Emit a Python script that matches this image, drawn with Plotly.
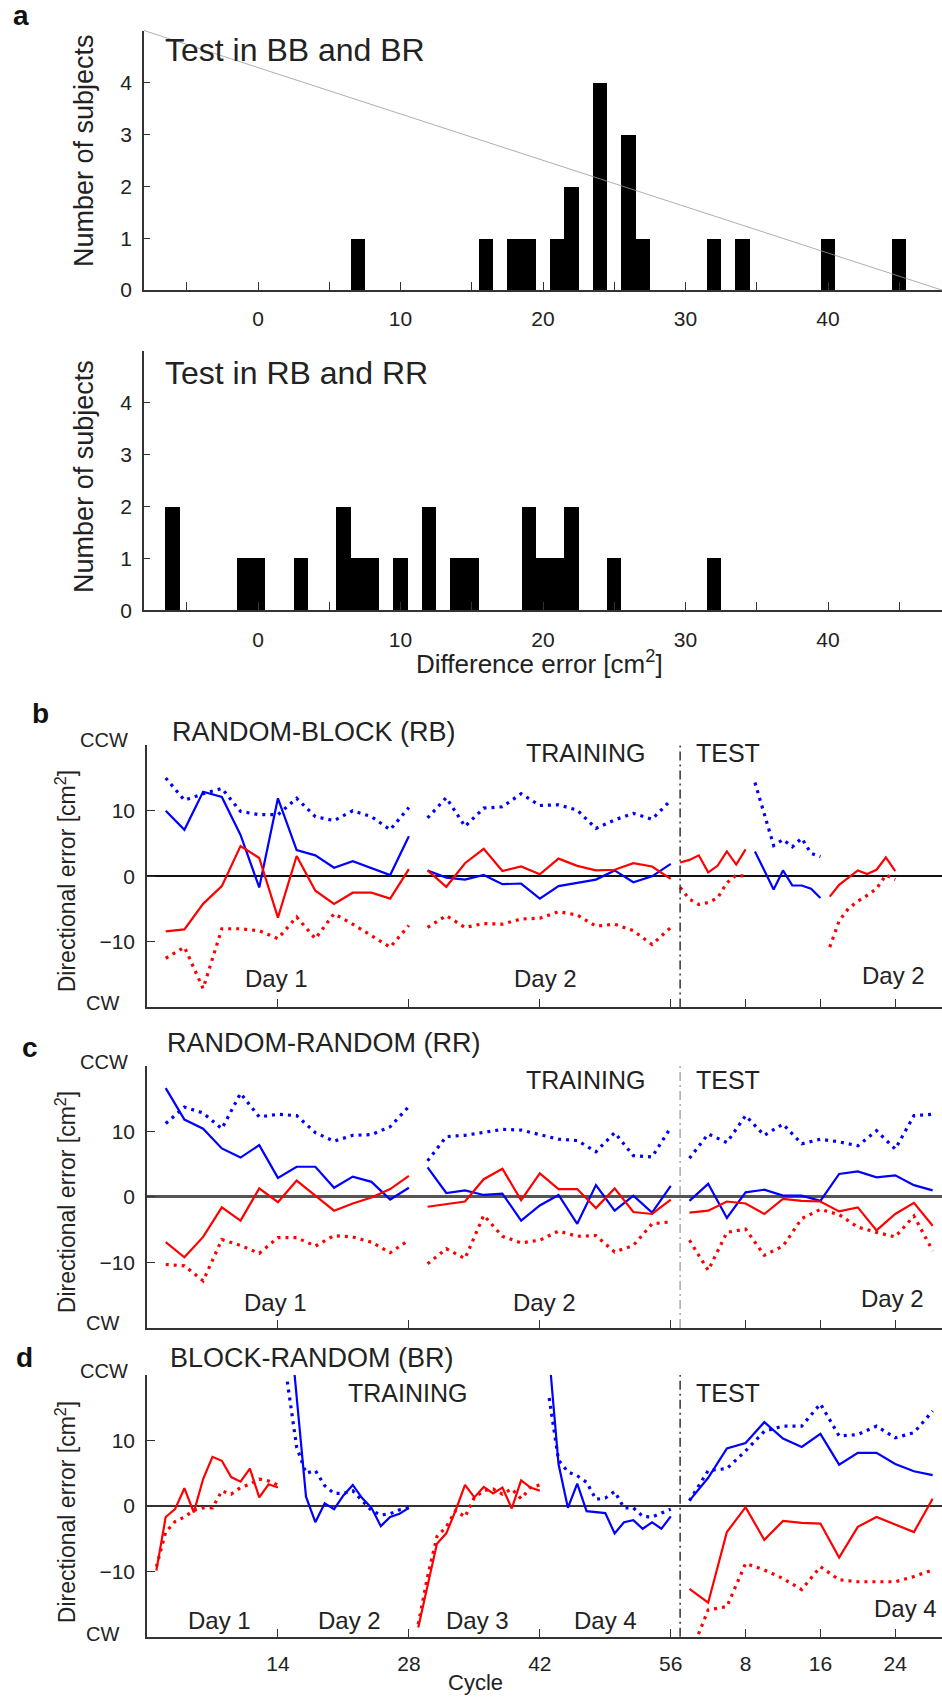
import plotly.graph_objects as go

W, H = 942, 1706
FONT = "Liberation Sans, Arial, Helvetica, sans-serif"

# ---------------- Panel a: histograms ----------------
HIST_BINS_TOP = [7, 16, 18, 19, 21, 22, 24, 26, 27, 32, 34, 40, 45]
HIST_COUNTS_TOP = [1, 1, 1, 1, 1, 2, 4, 3, 1, 1, 1, 1, 1]
HIST_BINS_BOT = [-6, -1, 0, 3, 6, 7, 8, 10, 12, 14, 15, 19, 20, 21, 22, 25, 32]
HIST_COUNTS_BOT = [2, 1, 1, 1, 2, 1, 1, 1, 2, 1, 1, 2, 1, 1, 2, 1, 1]
HIST_XTICKS = [0, 10, 20, 30, 40]
HIST_XMINOR = [-5, 5, 15, 25, 35, 45]
HIST_YTICKS = [0, 1, 2, 3, 4]

# ---------------- Panels b-d: cycle axes ----------------
CYCLE_TICKS = [14, 28, 42, 56, 64, 72, 80]
CYCLE_LABELS = ["14", "28", "42", "56", "8", "16", "24"]
ERR_TICKS = [-10, 0, 10]
ERR_LABELS = ["\u221210", "0", "10"]
ERR_MINOR = [-20, 20]
TEST_SEP = 57

# Panel b: RANDOM-BLOCK (RB)
RB_D1_X = [2, 4, 6, 8, 10, 12, 14, 16, 18, 20, 22, 24, 26, 28]
RB_D1_BLUE = [10.0, 7.1, 12.9, 12.1, 6.3, -1.7, 11.9, 4.0, 3.2, 1.3, 2.3, 1.3, 0.2, 6.1]
RB_D1_BDOT = [15.0, 11.6, 12.6, 13.4, 9.9, 9.4, 9.4, 11.9, 9.1, 8.5, 10.0, 9.1, 7.1, 10.5]
RB_D1_RED = [-8.4, -8.1, -4.2, -1.5, 4.6, 2.8, -6.3, 3.1, -2.2, -4.2, -2.5, -2.5, -3.4, 1.1]
RB_D1_RDOT = [-12.5, -10.8, -17.1, -8.0, -8.0, -8.3, -9.5, -6.2, -9.5, -5.7, -7.3, -9.0, -10.8, -7.5]
RB_D2_X = [30, 32, 34, 36, 38, 40, 42, 44, 46, 48, 50, 52, 54, 56]
RB_D2_BLUE = [0.9, -0.2, -0.5, 0.2, -1.2, -1.1, -3.4, -1.5, -1.0, -0.5, 0.9, -0.9, 0.0, 1.9]
RB_D2_BDOT = [8.9, 12.0, 7.6, 10.4, 10.6, 12.6, 10.8, 10.9, 10.1, 7.3, 8.6, 9.6, 8.7, 11.6]
RB_D2_RED = [0.9, -1.6, 2.0, 4.2, 0.8, 1.5, 0.3, 2.7, 1.6, 0.9, 1.0, 2.0, 1.5, -0.4]
RB_D2_RDOT = [-7.8, -6.0, -7.8, -7.2, -7.3, -6.5, -6.4, -5.4, -5.9, -7.6, -7.3, -8.3, -10.4, -7.8]
RB_T1_X = [57, 58, 59, 60, 61, 62, 63, 64]
RB_T1_RED = [2.1, 2.5, 3.2, 0.6, 1.6, 3.8, 1.8, 4.1]
RB_T1_RDOT = [-1.7, -3.5, -4.3, -4.0, -3.3, -1.0, 0.2, 0.0]
RB_T2_X = [65, 66, 67, 68, 69, 70, 71, 72]
RB_T2_BLUE = [3.8, 0.8, -2.0, 0.9, -1.4, -1.4, -1.9, -3.3]
RB_T2_BDOT = [14.3, 9.5, 4.7, 5.6, 4.5, 5.8, 3.5, 3.0]
RB_T3_X = [73, 74, 75, 76, 77, 78, 79, 80]
RB_T3_RED = [-3.1, -1.3, -0.2, 0.9, 0.35, 1.0, 2.9, 0.8]
RB_T3_RDOT = [-10.8, -6.8, -4.9, -3.8, -2.9, -1.9, 0.2, -0.5]

# Panel c: RANDOM-RANDOM (RR)
RR_D1_X = [2, 4, 6, 8, 10, 12, 14, 16, 18, 20, 22, 24, 26, 28]
RR_D1_BLUE = [16.6, 11.8, 10.4, 7.4, 6.0, 7.9, 2.9, 4.6, 4.6, 1.4, 3.1, 2.3, -0.4, 1.4]
RR_D1_BDOT = [11.2, 13.7, 12.8, 10.4, 15.8, 12.2, 12.6, 12.4, 9.8, 8.5, 9.4, 9.5, 10.7, 13.8]
RR_D1_RED = [-6.9, -9.2, -6.1, -1.6, -3.6, 1.3, -0.8, 2.5, 0.2, -2.1, -1.0, -0.1, 1.2, 3.2]
RR_D1_RDOT = [-10.3, -10.5, -12.8, -6.5, -7.4, -8.6, -6.2, -6.2, -7.5, -5.9, -6.1, -6.9, -8.5, -6.6]
RR_D2_X = [30, 32, 34, 36, 38, 40, 42, 44, 46, 48, 50, 52, 54, 56]
RR_D2_BLUE = [4.5, 0.6, 1.0, 0.3, 0.5, -3.6, -1.3, 0.3, -4.1, 1.8, -2.1, 0.2, -2.4, 1.7]
RR_D2_BDOT = [5.5, 9.2, 9.4, 9.8, 10.3, 10.2, 9.5, 8.8, 8.6, 6.9, 9.8, 6.3, 6.1, 10.6]
RR_D2_RED = [-1.5, -1.1, -0.7, 2.7, 4.3, -0.5, 3.6, 1.2, 1.2, -1.7, 1.3, -2.3, -2.6, -0.4]
RR_D2_RDOT = [-10.2, -7.9, -9.4, -2.8, -6.0, -7.0, -6.6, -5.2, -6.0, -5.9, -8.4, -7.4, -4.1, -3.8]
RR_T_X = [58, 60, 62, 64, 66, 68, 70, 72, 74, 76, 78, 80, 82, 84]
RR_T_BLUE = [-0.6, 2.0, -3.2, 0.7, 1.1, 0.2, 0.2, -0.6, 3.5, 3.9, 3.0, 3.3, 1.8, 1.0]
RR_T_BDOT = [5.9, 9.6, 8.3, 12.4, 9.4, 11.1, 8.1, 8.8, 8.4, 7.8, 10.1, 7.3, 12.4, 12.6]
RR_T_RED = [-2.4, -2.1, -0.7, -1.0, -2.6, -0.3, -0.6, -0.7, -2.2, -1.6, -5.1, -2.6, -0.9, -4.4]
RR_T_RDOT = [-6.6, -11.2, -5.4, -4.9, -8.9, -7.5, -3.3, -1.9, -2.7, -4.6, -5.4, -6.1, -2.9, -8.2]

# Panel d: BLOCK-RANDOM (BR)
BR_D1_X = [1, 2, 3, 4, 5, 6, 7, 8, 9, 10, 11, 12, 13, 14]
BR_D1_RED = [-9.9, -1.7, -0.5, 2.7, -1.0, 4.1, 7.5, 6.9, 4.4, 3.7, 5.7, 1.3, 3.3, 2.8]
BR_D1_RDOT = [-9.3, -4.0, -2.4, -1.7, -0.7, -0.3, -0.3, 2.3, 1.8, 2.8, 3.3, 4.1, 3.8, 3.2]
BR_D2_X = [15, 16, 17, 18, 19, 20, 21, 22, 23, 24, 25, 26, 27, 28]
BR_D2_BLUE = [32.0, 17.0, 1.4, -2.5, 0.4, -0.5, 1.6, 3.2, 1.2, -0.3, -3.1, -1.7, -1.2, -0.3]
BR_D2_BDOT = [19.0, 9.0, 5.0, 5.4, 3.1, 1.9, 1.9, 2.3, 0.8, -0.7, -1.4, -1.2, -0.6, -0.3]
BR_D3_X = [29, 30, 31, 32, 33, 34, 35, 36, 37, 38, 39, 40, 41, 42]
BR_D3_RED = [-18.6, -12.3, -5.8, -4.2, -0.7, 3.2, 1.3, 2.9, 1.9, 2.8, -0.4, 3.9, 2.8, 2.3]
BR_D3_RDOT = [-18.1, -10.8, -4.7, -3.2, -0.7, -1.7, 1.3, 2.3, 2.6, 1.8, 2.6, 1.1, 2.8, 3.2]
BR_D4_X = [43, 44, 45, 46, 47, 48, 49, 50, 51, 52, 53, 54, 55, 56]
BR_D4_BLUE = [23.0, 6.4, -0.3, 3.4, -0.8, -0.9, -1.1, -4.2, -2.5, -2.2, -3.5, -2.5, -3.5, -1.6]
BR_D4_BDOT = [16.5, 7.0, 5.2, 4.6, 3.6, 1.0, 1.2, 2.2, -0.3, -0.3, -1.6, -1.7, -1.1, -0.5]
BR_T_X = [58, 60, 62, 64, 66, 68, 70, 72, 74, 76, 78, 80, 82, 84]
BR_T_BLUE = [0.8, 4.3, 8.8, 9.6, 12.8, 10.3, 9.0, 11.0, 6.3, 8.1, 8.1, 6.4, 5.3, 4.7]
BR_T_BDOT = [0.8, 5.4, 5.7, 8.4, 11.4, 12.2, 12.2, 15.6, 10.7, 10.9, 12.2, 10.4, 11.2, 14.5]
BR_T_RED = [-12.7, -14.8, -4.0, -0.2, -5.2, -2.3, -2.6, -2.7, -7.9, -3.2, -1.7, -2.8, -4.0, 1.1]
BR_T_RDOT = [-23.0, -15.9, -15.4, -8.8, -9.8, -11.1, -12.8, -9.3, -11.3, -11.6, -11.6, -11.6, -10.8, -9.8]

BLUE = "#0000ff"
RED = "#ff0000"


def px_x(v):
    return v / W


def px_y(v):
    return 1 - v / H


def join(*segs):
    xs, ys = [], []
    for sx, sy in segs:
        if xs:
            xs.append(None)
            ys.append(None)
        xs.extend(sx)
        ys.extend(sy)
    return xs, ys


fig = go.Figure()

# Histograms
fig.add_trace(go.Bar(x=HIST_BINS_TOP, y=HIST_COUNTS_TOP, width=1, marker=dict(color="black", line=dict(width=0)),
                     xaxis="x", yaxis="y"))
fig.add_trace(go.Bar(x=HIST_BINS_BOT, y=HIST_COUNTS_BOT, width=1, marker=dict(color="black", line=dict(width=0)),
                     xaxis="x2", yaxis="y2"))


def add_line(segs, color, dotted, ax):
    xs, ys = join(*segs)
    line = dict(color=color, width=3.2 if dotted else 2.2)
    if dotted:
        line["dash"] = "3px,5px"
    fig.add_trace(go.Scatter(x=xs, y=ys, mode="lines", line=line, connectgaps=False,
                             xaxis="x" + ax, yaxis="y" + ax, hoverinfo="skip"))


# Panel b
add_line([(RB_D1_X, RB_D1_BDOT), (RB_D2_X, RB_D2_BDOT), (RB_T2_X, RB_T2_BDOT)], BLUE, True, "3")
add_line([(RB_D1_X, RB_D1_RDOT), (RB_D2_X, RB_D2_RDOT), (RB_T1_X, RB_T1_RDOT), (RB_T3_X, RB_T3_RDOT)], RED, True, "3")
add_line([(RB_D1_X, RB_D1_BLUE), (RB_D2_X, RB_D2_BLUE), (RB_T2_X, RB_T2_BLUE)], BLUE, False, "3")
add_line([(RB_D1_X, RB_D1_RED), (RB_D2_X, RB_D2_RED), (RB_T1_X, RB_T1_RED), (RB_T3_X, RB_T3_RED)], RED, False, "3")

# Panel c
add_line([(RR_D1_X, RR_D1_BDOT), (RR_D2_X, RR_D2_BDOT), (RR_T_X, RR_T_BDOT)], BLUE, True, "4")
add_line([(RR_D1_X, RR_D1_RDOT), (RR_D2_X, RR_D2_RDOT), (RR_T_X, RR_T_RDOT)], RED, True, "4")
add_line([(RR_D1_X, RR_D1_BLUE), (RR_D2_X, RR_D2_BLUE), (RR_T_X, RR_T_BLUE)], BLUE, False, "4")
add_line([(RR_D1_X, RR_D1_RED), (RR_D2_X, RR_D2_RED), (RR_T_X, RR_T_RED)], RED, False, "4")

# Panel d
add_line([(BR_D2_X, BR_D2_BDOT), (BR_D4_X, BR_D4_BDOT), (BR_T_X, BR_T_BDOT)], BLUE, True, "5")
add_line([(BR_D1_X, BR_D1_RDOT), (BR_D3_X, BR_D3_RDOT), (BR_T_X, BR_T_RDOT)], RED, True, "5")
add_line([(BR_D2_X, BR_D2_BLUE), (BR_D4_X, BR_D4_BLUE), (BR_T_X, BR_T_BLUE)], BLUE, False, "5")
add_line([(BR_D1_X, BR_D1_RED), (BR_D3_X, BR_D3_RED), (BR_T_X, BR_T_RED)], RED, False, "5")

tickfont = dict(family=FONT, size=21, color="#222")
TICKC = "#333"


def hist_axes(top, bottom):
    xa = dict(domain=[px_x(144), 1], range=[-8, 48], tickmode="array", tickvals=HIST_XTICKS,
              ticks="inside", ticklen=8, tickwidth=1.2, tickcolor=TICKC,
              minor=dict(tickmode="array", tickvals=HIST_XMINOR, ticks="inside", ticklen=8,
                         tickwidth=1.2, tickcolor=TICKC, showgrid=False),
              showline=True, linecolor="#333", linewidth=2.2, showgrid=False, zeroline=False,
              tickfont=tickfont, ticklabelstandoff=9, fixedrange=True)
    ya = dict(domain=[px_y(bottom), px_y(top)], range=[0, 5], tickmode="array", tickvals=HIST_YTICKS,
              ticks="inside", ticklen=6, tickwidth=1.2, tickcolor=TICKC, showline=True, linecolor="#333",
              linewidth=1.5, showgrid=False, zeroline=False, tickfont=tickfont, ticklabelstandoff=6,
              fixedrange=True)
    return xa, ya


def err_axes(top, bottom, labels, zcol, zw):
    xa = dict(domain=[px_x(147), 1], range=[0, 85], tickmode="array", tickvals=CYCLE_TICKS,
              ticktext=CYCLE_LABELS, showticklabels=labels, ticks="inside", ticklen=8,
              tickwidth=1.2, tickcolor=TICKC, showline=True, linecolor="#333", linewidth=2,
              showgrid=False, zeroline=False, tickfont=tickfont, ticklabelstandoff=7, fixedrange=True)
    ya = dict(domain=[px_y(bottom), px_y(top)], range=[-20, 20], tickmode="array", tickvals=ERR_TICKS,
              ticktext=ERR_LABELS, ticks="inside", ticklen=8, tickwidth=1.2, tickcolor=TICKC,
              minor=dict(tickmode="array", tickvals=ERR_MINOR, ticks="inside", ticklen=8,
                         tickwidth=1.2, tickcolor=TICKC, showgrid=False),
              showline=True, linecolor="#333", linewidth=1.5, showgrid=False, zeroline=True,
              zerolinecolor=zcol, zerolinewidth=zw, tickfont=tickfont, ticklabelstandoff=6,
              fixedrange=True)
    return xa, ya


x1, y1 = hist_axes(30.7, 292)
x2, y2 = hist_axes(353.3, 614.3)
x3, y3 = err_axes(750, 1014, False, "#111", 1.6)
x4, y4 = err_axes(1072.7, 1336.7, False, "#555", 2.6)
x5, y5 = err_axes(1384, 1647.3, True, "#333", 2.4)
x1["anchor"] = "y"; y1["anchor"] = "x"
x2["anchor"] = "y2"; y2["anchor"] = "x2"
x3["anchor"] = "y3"; y3["anchor"] = "x3"
x4["anchor"] = "y4"; y4["anchor"] = "x4"
x5["anchor"] = "y5"; y5["anchor"] = "x5"

shapes = [
    dict(type="line", xref="x domain", yref="y domain", x0=0, x1=1, y0=1, y1=0,
         line=dict(color="#999", width=0.8)),
]
for ax, col in (("3", "#333"), ("4", "#aaa"), ("5", "#333")):
    shapes.append(dict(type="line", xref="x" + ax, yref="y" + ax + " domain", x0=TEST_SEP, x1=TEST_SEP,
                       y0=0, y1=1, line=dict(color=col, width=1.5, dash="9px,4px,2px,4px")))

ann = []


def text(t, x, y, size, xanchor="center", angle=0, color="#222"):
    ann.append(dict(text=t, x=px_x(x), y=px_y(y), xref="paper", yref="paper", showarrow=False,
                    xanchor=xanchor, yanchor="middle", textangle=angle,
                    font=dict(family=FONT, size=size, color=color)))


# panel letters
text("<b>a</b>", 21, 16, 28, color="#111")
text("<b>b</b>", 40, 718, 28, color="#111")
text("<b>c</b>", 30, 1054, 28, color="#111")
text("<b>d</b>", 24, 1366, 28, color="#111")

# panel a texts
text("Test in BB and BR", 163, 50, 32, xanchor="left")
text("Test in RB and RR", 163, 375, 32, xanchor="left")
text("Number of subjects", 84, 152, 27, angle=-90)
text("Number of subjects", 84, 480, 27, angle=-90)
text("Difference error [cm<sup>2</sup>]", 539, 667, 26)

# titles b-d
text("RANDOM-BLOCK (RB)", 170, 737, 27, xanchor="left")
text("RANDOM-RANDOM (RR)", 165, 1050, 27, xanchor="left")
text("BLOCK-RANDOM (BR)", 168, 1367, 27, xanchor="left")

for ty, ccw, cw, yl in ((758, 745, 1010, 887), (1087, 1069, 1332, 1210), (1402, 1380, 1645, 1522)):
    text("TEST", 728, ty, 25)
    text("CCW", 104, ccw, 20)
    text("CW", 102, cw, 20)
    text("Directional error [cm<sup>2</sup>]", 66, yl, 23, angle=-90)

text("TRAINING", 585, 758, 25)
text("TRAINING", 585, 1087, 25)
text("TRAINING", 407, 1402, 25)

text("Day 1", 276, 985, 24)
text("Day 2", 545, 985, 24)
text("Day 2", 893, 982, 24)
text("Day 1", 275, 1311, 24)
text("Day 2", 544, 1311, 24)
text("Day 2", 892, 1307, 24)
text("Day 1", 219, 1631, 24)
text("Day 2", 349, 1631, 24)
text("Day 3", 477, 1631, 24)
text("Day 4", 605, 1631, 24)
text("Day 4", 905, 1619, 24)
text("Cycle", 475, 1693, 22)

fig.update_layout(
    width=W, height=H, margin=dict(l=0, r=0, t=0, b=0), showlegend=False,
    plot_bgcolor="white", paper_bgcolor="white",
    xaxis=x1, yaxis=y1, xaxis2=x2, yaxis2=y2, xaxis3=x3, yaxis3=y3,
    xaxis4=x4, yaxis4=y4, xaxis5=x5, yaxis5=y5,
    shapes=shapes, annotations=ann, bargap=0,
)

fig.write_html(
    "out.html",
    config={"displayModeBar": False},
    post_script="document.body.style.margin='0';document.body.style.overflow='hidden';",
)
